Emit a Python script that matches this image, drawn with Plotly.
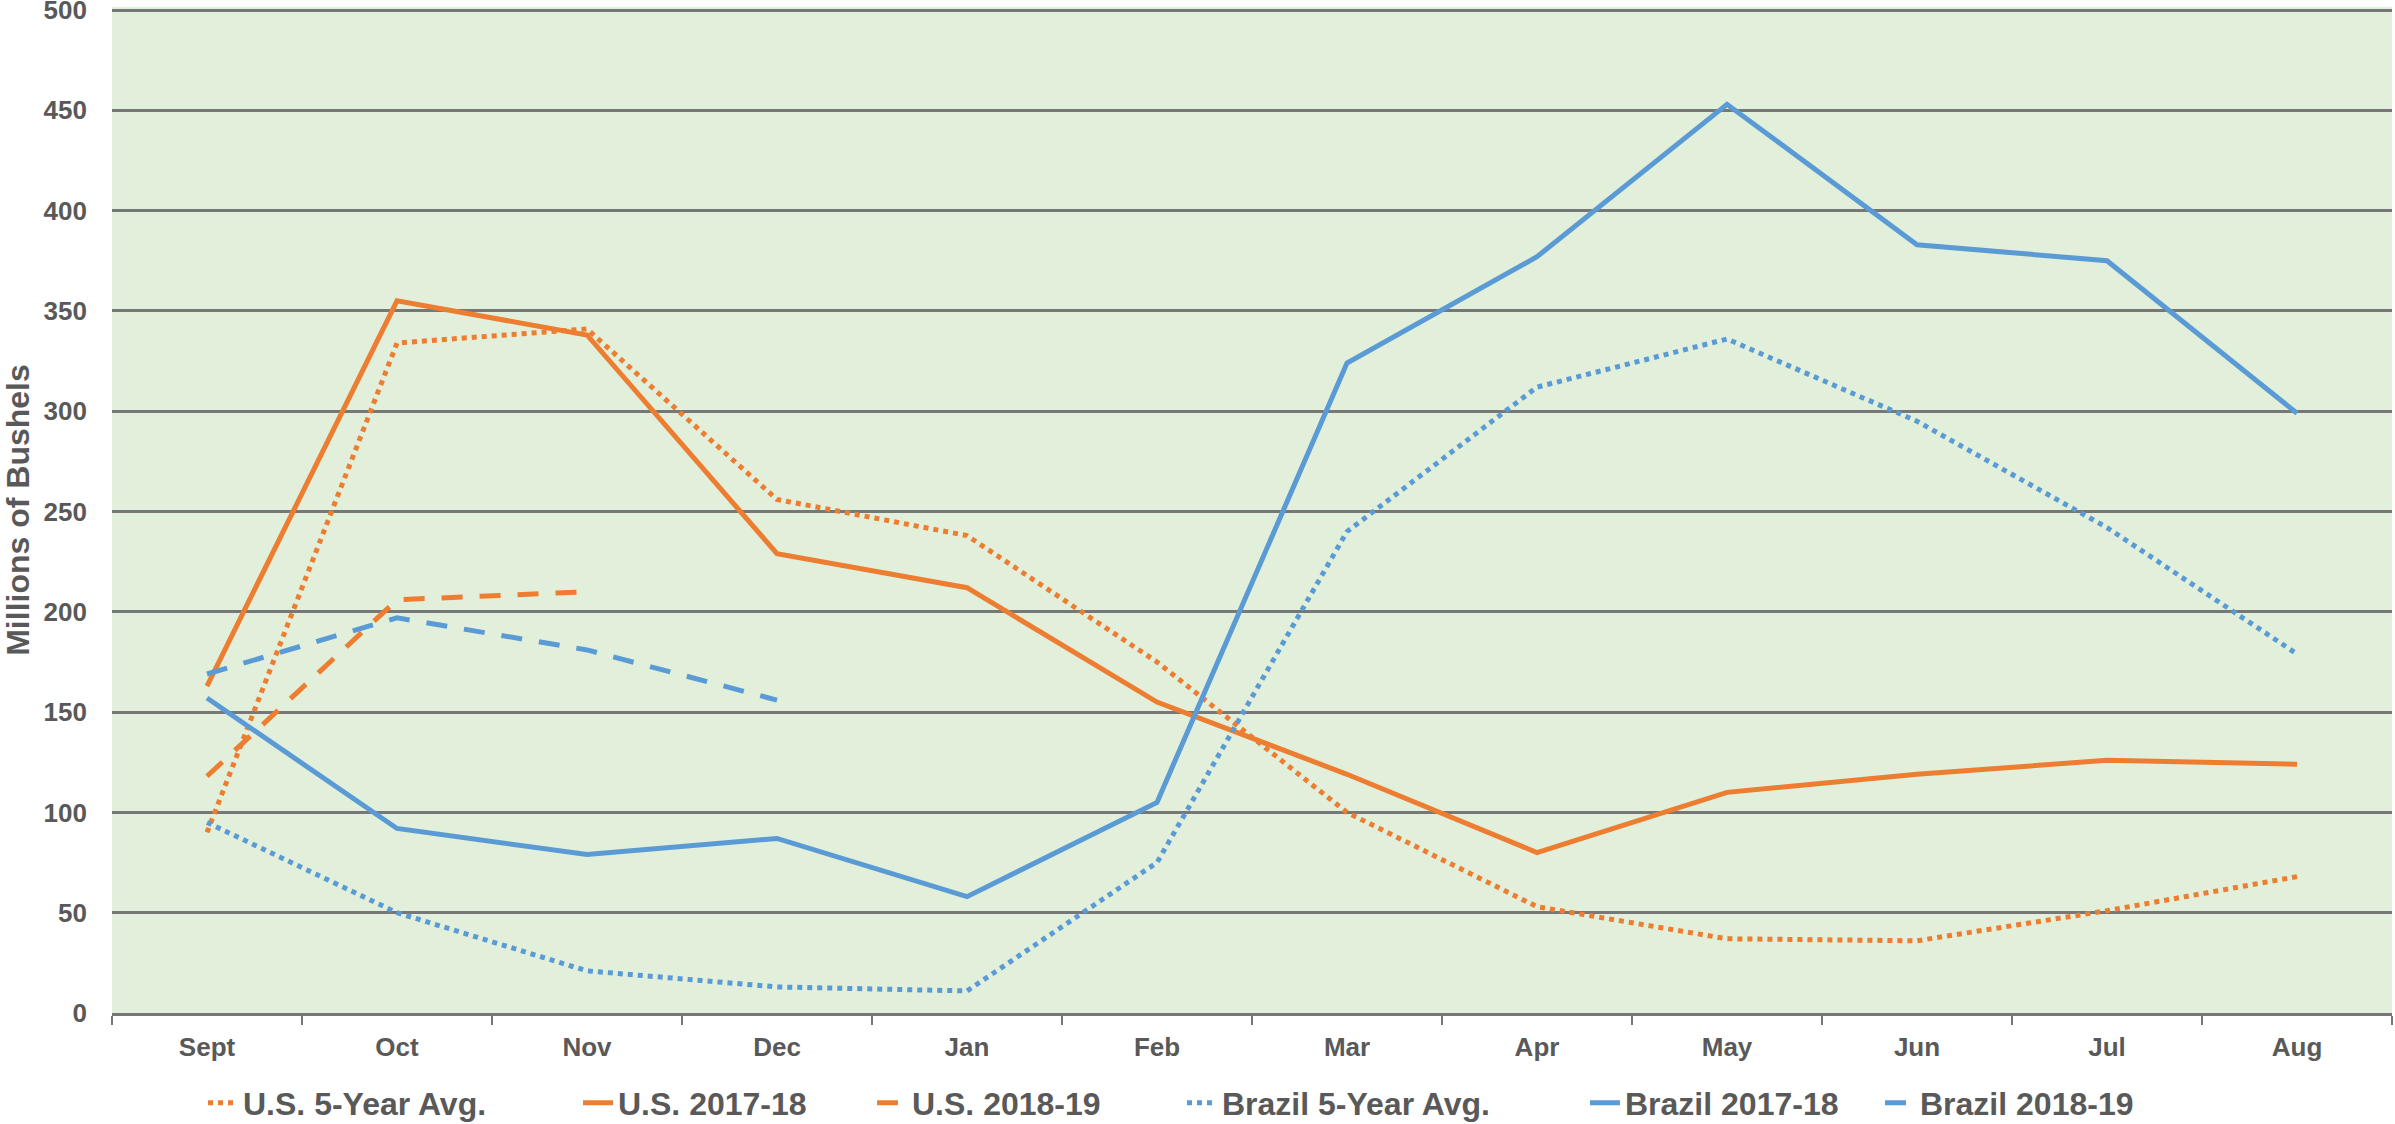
import plotly.graph_objects as go

months = ["Sept", "Oct", "Nov", "Dec", "Jan", "Feb", "Mar", "Apr", "May", "Jun", "Jul", "Aug"]

us_5yr = [90, 334, 341, 256, 238, 175, 100, 53, 37, 36, 51, 68]
us_2017_18 = [163, 355, 338, 229, 212, 155, 119, 80, 110, 119, 126, 124]
us_2018_19 = [118, 206, 210]
br_5yr = [95, 50, 21, 13, 11, 75, 240, 312, 336, 295, 242, 179]
br_2017_18 = [157, 92, 79, 87, 58, 105, 324, 377, 453, 383, 375, 299]
br_2018_19 = [169, 197, 181, 156]

ORANGE = "#ED7D31"
BLUE = "#5B9BD5"
TXT = "#595959"
GRID = "#777777"
LW = 5
DASH = "21px,17px"

series = [
    ("U.S. 5-Year Avg.", us_5yr, ORANGE, "dot"),
    ("U.S. 2017-18", us_2017_18, ORANGE, "solid"),
    ("U.S. 2018-19", us_2018_19, ORANGE, DASH),
    ("Brazil 5-Year Avg.", br_5yr, BLUE, "dot"),
    ("Brazil 2017-18", br_2017_18, BLUE, "solid"),
    ("Brazil 2018-19", br_2018_19, BLUE, DASH),
]
# left edge of each legend entry's text (px in the page)
legend_text_x = [243, 618, 912, 1222, 1625, 1920]

W, H = 2395, 1124
fig = go.Figure()
layout_legends = {}
for i, (name, vals, color, dash) in enumerate(series):
    key = "legend" if i == 0 else f"legend{i + 1}"
    fig.add_trace(go.Scatter(
        x=months[:len(vals)], y=vals, name=name, mode="lines",
        line=dict(color=color, width=LW, dash=dash),
        legend=key,
    ))
    layout_legends[key] = dict(
        orientation="h", xref="container", yref="container",
        x=(legend_text_x[i] - 40) / W, xanchor="left",
        y=(H - 1103) / H, yanchor="middle",
        font=dict(size=32, color=TXT, weight="bold"),
        bgcolor="rgba(0,0,0,0)",
    )

fig.update_layout(
    width=W, height=H,
    margin=dict(l=112, r=3, t=7, b=111, autoexpand=False),
    paper_bgcolor="white",
    plot_bgcolor="#E2EFDA",
    font=dict(family="Liberation Sans, Arial, sans-serif", color=TXT, size=26, weight="bold"),
    showlegend=True,
    **layout_legends,
)
fig.update_xaxes(
    type="category", categoryorder="array", categoryarray=months,
    range=[-0.5, 11.5], automargin=False,
    showline=True, linecolor="#767676", linewidth=3,
    ticks="outside", tickson="boundaries", ticklen=9, tickcolor="#767676", tickwidth=2,
    showgrid=False, ticklabelstandoff=9,
    tickfont=dict(size=26, color=TXT, weight="bold"),
)
fig.update_yaxes(
    range=[0, 501.5], dtick=50, tick0=0, automargin=False,
    showgrid=True, gridcolor=GRID, gridwidth=2.5,
    zeroline=False, showline=False,
    ticks="", ticklabelstandoff=24, ticklabeloverflow="allow",
    tickfont=dict(size=26, color=TXT, weight="bold"),
    title=dict(text="Millions of Bushels", font=dict(size=32, color=TXT, weight="bold"), standoff=6),
)

fig.write_html("out.html", config={"displayModeBar": False},
               post_script="document.body.style.margin='0';")
